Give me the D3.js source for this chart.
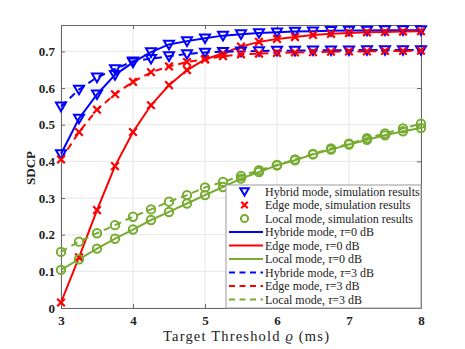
<!DOCTYPE html>
<html><head><meta charset="utf-8">
<script src="https://cdn.jsdelivr.net/npm/d3@7"></script>
<style>body{margin:0;background:#fff;} svg{display:block;}</style>
</head><body>
<svg id="chart" width="465" height="349"></svg>
<script>
const xValues = [3,3.25,3.5,3.75,4,4.25,4.5,4.75,5,5.25,5.5,5.75,6,6.25,6.5,6.75,7,7.25,7.5,7.75,8];
const hybrid0 = [0.42,0.517,0.583,0.636,0.67,0.698,0.719,0.728,0.736,0.743,0.747,0.75,0.752,0.754,0.755,0.756,0.757,0.757,0.758,0.758,0.758];
const hybrid3 = [0.55,0.596,0.629,0.652,0.673,0.68,0.687,0.693,0.697,0.699,0.7,0.701,0.702,0.702,0.703,0.703,0.703,0.704,0.704,0.704,0.704];
const edge0 = [0.015,0.138,0.267,0.387,0.48,0.553,0.608,0.649,0.678,0.695,0.713,0.726,0.734,0.739,0.745,0.748,0.75,0.752,0.753,0.754,0.755];
const edge3 = [0.405,0.48,0.541,0.583,0.617,0.643,0.659,0.671,0.679,0.687,0.692,0.694,0.696,0.697,0.698,0.699,0.7,0.7,0.701,0.701,0.702];
const local0 = [0.104,0.133,0.162,0.189,0.214,0.24,0.262,0.285,0.308,0.33,0.353,0.371,0.389,0.403,0.419,0.432,0.446,0.459,0.471,0.482,0.491];
const local3 = [0.153,0.181,0.204,0.226,0.249,0.269,0.29,0.308,0.329,0.344,0.36,0.376,0.39,0.405,0.42,0.435,0.448,0.463,0.476,0.49,0.503];
const xTicks = [3,4,5,6,7,8];
const yTicks = [0,0.1,0.2,0.3,0.4,0.5,0.6,0.7];
const legendLabels = ["Hybrid mode, simulation results","Edge mode, simulation results","Local mode, simulation results",
  "Hybride mode, \u03C4=0 dB","Edge mode, \u03C4=0 dB","Local mode, \u03C4=0 dB",
  "Hybride mode, \u03C4=3 dB","Edge mode, \u03C4=3 dB","Local mode, \u03C4=3 dB"];

const BLUE="#0000ff", RED="#ff0000", GREEN="#77ac30";
const series = [
  {vals:hybrid0, color:BLUE, dash:null, marker:"tri"},
  {vals:edge0, color:RED, dash:null, marker:"x"},
  {vals:local0, color:GREEN, dash:null, marker:"o"},
  {vals:hybrid3, color:BLUE, dash:"7,5", marker:"tri"},
  {vals:edge3, color:RED, dash:"7,5", marker:"x"},
  {vals:local3, color:GREEN, dash:"7,5", marker:"o"}
];

const L=61, R=421, T=25, B=308;
const svg = d3.select("#chart");
const x = d3.scaleLinear().domain([3,8]).range([L,R]);
const y = d3.scaleLinear().domain([0,0.772]).range([B,T]);

// grid
const g = svg.append("g");
g.selectAll(".gx").data(xTicks).join("line").attr("x1",d=>x(d)).attr("x2",d=>x(d)).attr("y1",T).attr("y2",B)
  .attr("stroke","#e6e6e6").attr("stroke-width",1);
g.selectAll(".gy").data(yTicks).join("line").attr("x1",L).attr("x2",R).attr("y1",d=>y(d)).attr("y2",d=>y(d))
  .attr("stroke","#e6e6e6").attr("stroke-width",1);

// axes
const axisColor="#666";
const fontTick = "bold 13px 'Liberation Serif', 'Times New Roman', serif";
const xa = svg.append("g").attr("transform",`translate(0,${B})`).call(d3.axisBottom(x).tickValues(xTicks).tickSize(-4).tickPadding(8).tickFormat(d3.format("d")));
const xt = svg.append("g").attr("transform",`translate(0,${T})`).call(d3.axisTop(x).tickValues(xTicks).tickSize(-4).tickFormat(""));
const ya = svg.append("g").attr("transform",`translate(${L},0)`).call(d3.axisLeft(y).tickValues(yTicks).tickSize(-4).tickPadding(6).tickFormat(d=>d===0?"0":d3.format(".1f")(d)));
const yr = svg.append("g").attr("transform",`translate(${R},0)`).call(d3.axisRight(y).tickValues(yTicks).tickSize(-4).tickFormat(""));
[xa,xt,ya,yr].forEach(a=>{
  a.select(".domain").attr("stroke",axisColor).attr("stroke-width",1);
  a.selectAll(".tick line").attr("stroke",axisColor);
  a.selectAll(".tick text").attr("fill","#222").style("font",fontTick);
});

// lines
const clip = svg.append("g");
const line = d3.line().x((d,i)=>x(xValues[i])).y(d=>y(d));
series.forEach(s=>{
  clip.append("path").attr("d",line(s.vals)).attr("fill","none").attr("stroke",s.color)
    .attr("stroke-width",2).attr("stroke-dasharray",s.dash);
});

function drawMarker(sel, type, color, cx, cy, k){
  k = k || 1;
  if(type==="tri"){
    sel.append("path").attr("d",`M${cx-5*k},${cy-3.8*k}L${cx+5*k},${cy-3.8*k}L${cx},${cy+4.8*k}Z`)
      .attr("fill","none").attr("stroke",color).attr("stroke-width",2).attr("stroke-linejoin","miter");
  } else if(type==="x"){
    sel.append("path").attr("d",`M${cx-3.8*k},${cy-3.8*k}L${cx+3.8*k},${cy+3.8*k}M${cx-3.8*k},${cy+3.8*k}L${cx+3.8*k},${cy-3.8*k}`)
      .attr("stroke",color).attr("stroke-width",2.2);
  } else {
    sel.append("circle").attr("cx",cx).attr("cy",cy).attr("r",4.2*k).attr("fill","none").attr("stroke",color).attr("stroke-width",2);
  }
}
const mk = svg.append("g");
series.forEach(s=>{
  s.vals.forEach((v,i)=>drawMarker(mk, s.marker, s.color, x(xValues[i]), y(v)));
});

// legend
const lg = svg.append("g");
const LX0=226, LY0=185;
lg.append("rect").attr("x",LX0).attr("y",LY0).attr("width",R-LX0).attr("height",B-LY0)
  .attr("fill","#fff").attr("stroke","#999").attr("stroke-width",1);
const legendItems = [
  {type:"m", marker:"tri", color:BLUE},{type:"m", marker:"x", color:RED},{type:"m", marker:"o", color:GREEN},
  {type:"l", color:BLUE, dash:null},{type:"l", color:RED, dash:null},{type:"l", color:GREEN, dash:null},
  {type:"l", color:BLUE, dash:"7,5"},{type:"l", color:RED, dash:"7,5"},{type:"l", color:GREEN, dash:"7,5"}
];
legendItems.forEach((it,i)=>{
  const cy = 191.5 + i*13.5;
  if(it.type==="m"){
    drawMarker(lg, it.marker, it.color, 244.5, cy, 0.85);
  } else {
    lg.append("line").attr("x1",229).attr("x2",263).attr("y1",cy).attr("y2",cy)
      .attr("stroke",it.color).attr("stroke-width",2).attr("stroke-dasharray",it.dash? "6,4.5":null);
  }
  const label = legendLabels[i];
  const t = lg.append("text").attr("x",265).attr("y",cy+4).attr("fill","#222")
    .style("font","12px 'Liberation Serif', 'Times New Roman', serif");
  const m = label.match(/^(.*)\u03C4(.*)$/);
  if(m){
    t.append("tspan").text(m[1]);
    t.append("tspan").style("font-style","italic").text("\u03C4");
    t.append("tspan").text(m[2]);
  } else t.text(label);
});

// axis titles
const xt2 = svg.append("text").attr("x",246).attr("y",340.5).attr("text-anchor","middle").attr("fill","#222")
  .attr("textLength",166).attr("lengthAdjust","spacing")
  .style("font","14.5px 'Liberation Serif', 'Times New Roman', serif");
xt2.append("tspan").text("Target Threshold ");
xt2.append("tspan").style("font-style","italic").text("\u03F1");
xt2.append("tspan").text(" (ms)");
svg.append("text").attr("transform","translate(34.5,168) rotate(-90)").attr("text-anchor","middle").attr("fill","#222")
  .style("font","bold 13px 'Liberation Serif', 'Times New Roman', serif").text("SDCP");
</script>
</body></html>
